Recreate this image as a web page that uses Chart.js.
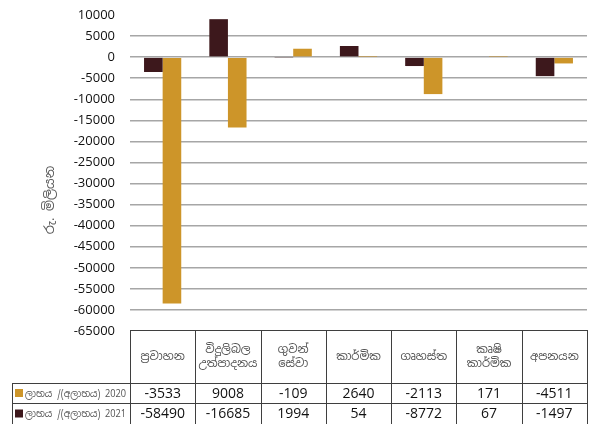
<!DOCTYPE html>
<html>
<head>
<meta charset="utf-8">
<script src="https://cdn.jsdelivr.net/npm/chart.js@4/dist/chart.umd.min.js"></script>
<style>
  html, body { margin: 0; padding: 0; background: #fff; }
  #wrap { width: 592px; height: 424px; }
</style>
</head>
<body>
<div id="wrap"><canvas id="profitChart" width="592" height="424"></canvas></div>
<script>
// categories (sectors), table header lines
const categories = [
  ['ප්‍රවාහන'],
  ['විදුලිබල', 'උත්පාදනය'],
  ['ගුවන්', 'සේවා'],
  ['කාර්මික'],
  ['ගෘහස්ත'],
  ['කෘෂි', 'කාර්මික'],
  ['අපනයන']
];
const seriesLabels = ['ලාභය /(අලාභය) 2020', 'ලාභය /(අලාභය) 2021'];
const values2020 = [-3533, 9008, -109, 2640, -2113, 171, -4511];
const values2021 = [-58490, -16685, 1994, 54, -8772, 67, -1497];
const yTitle = 'රු. මිලියන';

const DARK = '#3d181c';
const GOLD = '#cd9529';
const LINE = '#3f3f3f';
const NUM_FONT = '"Open Sans", "Liberation Sans", sans-serif';
const SI_FONT = '"Noto Sans Sinhala", "Iskoola Pota", "DejaVu Sans", sans-serif';

// draws the data table under the plot + y axis title
const tablePlugin = {
  id: 'dataTable',
  afterDraw(chart) {
    const ctx = chart.ctx;
    const x = chart.scales.x;
    const area = chart.chartArea;
    const n = categories.length;
    const centers = categories.map((c, i) => x.getPixelForValue(i));
    const edges = [area.left];
    for (let i = 0; i < n - 1; i++) edges.push((centers[i] + centers[i + 1]) / 2);
    edges.push(area.right);

    const top = area.bottom - 1;
    const headBottom = 383;
    const row1Bottom = 403;
    const bottom = 424;
    const labelLeft = 12;

    ctx.save();
    ctx.strokeStyle = LINE;
    ctx.lineWidth = 1;
    ctx.beginPath();
    ctx.moveTo(area.left, top + 0.5); ctx.lineTo(area.right, top + 0.5);
    ctx.moveTo(labelLeft, headBottom + 0.5); ctx.lineTo(area.right, headBottom + 0.5);
    ctx.moveTo(labelLeft, row1Bottom + 0.5); ctx.lineTo(area.right, row1Bottom + 0.5);
    edges.forEach(e => {
      const px = Math.round(e) + 0.5;
      ctx.moveTo(px, top); ctx.lineTo(px, bottom);
    });
    ctx.moveTo(labelLeft + 0.5, headBottom); ctx.lineTo(labelLeft + 0.5, bottom);
    ctx.stroke();

    // header text
    ctx.fillStyle = '#505050';
    ctx.textAlign = 'center';
    ctx.textBaseline = 'middle';
    ctx.font = '11.5px ' + SI_FONT;
    const headMid = (top + headBottom) / 2;
    categories.forEach((lines, i) => {
      const lh = 14;
      const y0 = headMid - (lines.length - 1) * lh / 2;
      lines.forEach((t, k) => ctx.fillText(t, centers[i], y0 + k * lh));
    });

    // values
    ctx.fillStyle = '#111';
    ctx.font = '14px ' + NUM_FONT;
    const rows = [values2020, values2021];
    const rowMid = [(headBottom + row1Bottom) / 2 + 1, (row1Bottom + bottom) / 2 + 1];
    rows.forEach((vals, r) => {
      vals.forEach((v, i) => ctx.fillText(String(v), centers[i], rowMid[r]));
    });

    // row labels with swatches (table keys: gold for 2020, dark for 2021)
    const swatch = [GOLD, DARK];
    ctx.textAlign = 'left';
    ctx.font = '10.5px ' + SI_FONT;
    seriesLabels.forEach((lab, r) => {
      ctx.fillStyle = swatch[r];
      ctx.fillRect(15, rowMid[r] - 5, 8, 8);
      ctx.fillStyle = '#555';
      ctx.fillText(lab, 25, rowMid[r], area.left - 29);
    });

    // y axis title
    ctx.translate(50, 200);
    ctx.rotate(-Math.PI / 2);
    ctx.textAlign = 'center';
    ctx.fillStyle = '#595959';
    ctx.font = '13px ' + SI_FONT;
    ctx.fillText(yTitle, 0, 0);
    ctx.restore();
  }
};

const ctx = document.getElementById('profitChart').getContext('2d');
new Chart(ctx, {
  type: 'bar',
  data: {
    labels: categories.map(c => c.join(' ')),
    datasets: [
      {
        label: seriesLabels[0],
        data: values2020,
        backgroundColor: DARK,
        borderWidth: 0,
        categoryPercentage: 0.57,
        barPercentage: 1
      },
      {
        label: seriesLabels[1],
        data: values2021,
        backgroundColor: GOLD,
        borderWidth: 0,
        categoryPercentage: 0.57,
        barPercentage: 1
      }
    ]
  },
  options: {
    responsive: false,
    animation: false,
    layout: { padding: { top: 15, right: 5, bottom: 93, left: 0 } },
    plugins: {
      legend: { display: false },
      tooltip: { enabled: false }
    },
    scales: {
      x: { display: false },
      y: {
        min: -65000,
        max: 10000,
        afterFit(scale) { scale.width = 130; },
        border: { display: false },
        grid: {
          drawTicks: true,
          tickLength: 15,
          tickColor: 'rgba(0,0,0,0)',
          lineWidth: 1.5,
          color: c => (c.tick.value === 10000 || c.tick.value === -65000) ? 'rgba(0,0,0,0)' : '#a6a6a6'
        },
        ticks: {
          stepSize: 5000,
          padding: 0,
          color: '#111',
          font: { family: NUM_FONT, size: 13 },
          callback: v => String(v)
        }
      }
    }
  },
  plugins: [tablePlugin]
});
</script>
</body>
</html>
